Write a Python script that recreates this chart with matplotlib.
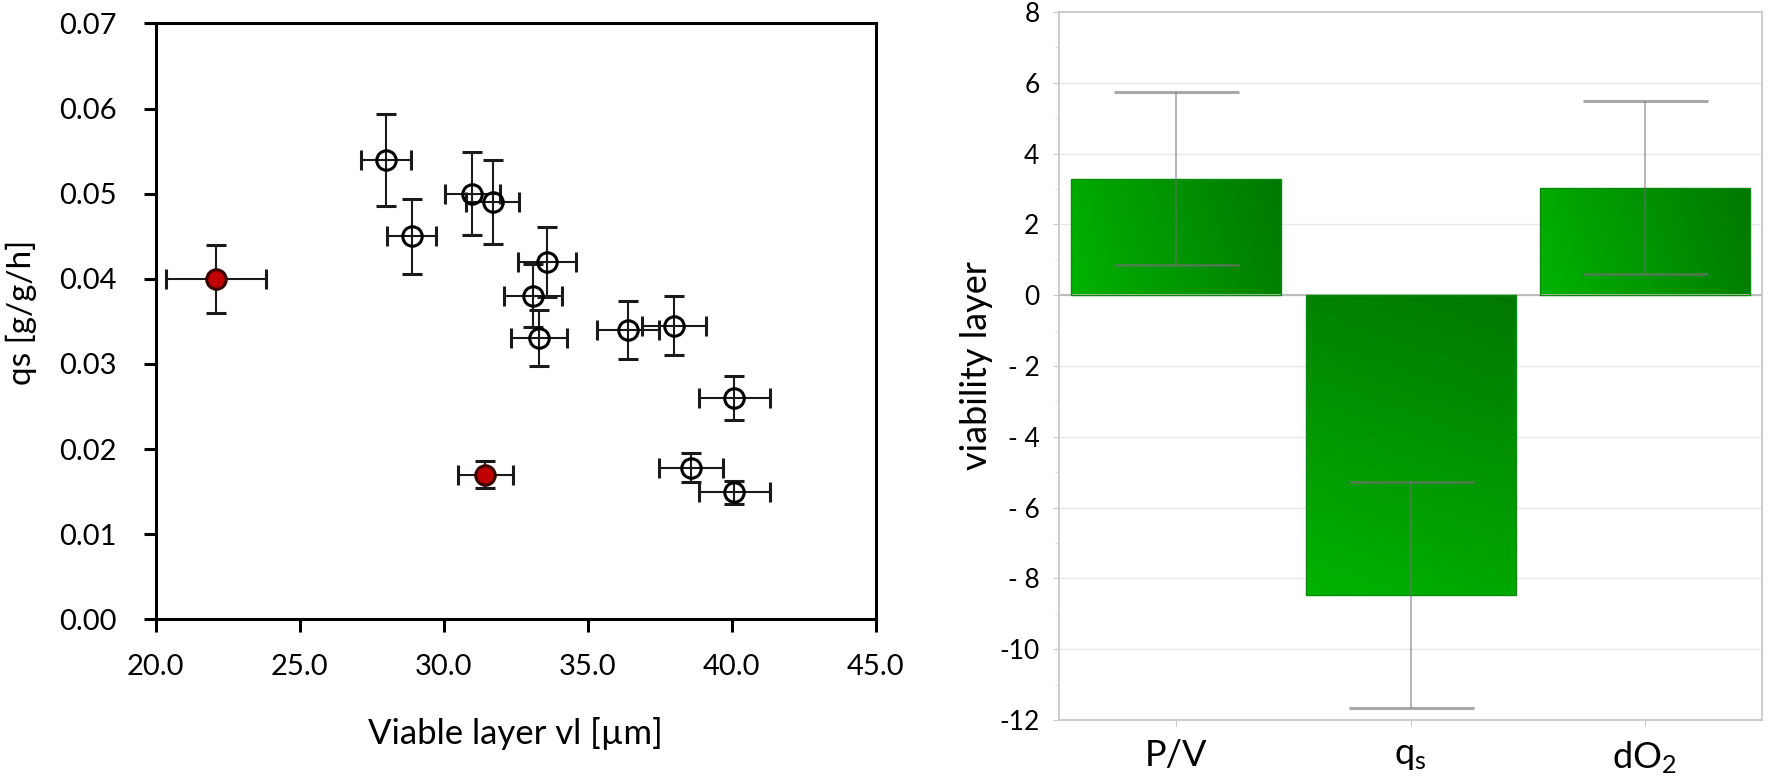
import numpy as np
import matplotlib
matplotlib.use("Agg")
import matplotlib.pyplot as plt
from matplotlib.ticker import FuncFormatter, MultipleLocator

plt.rcParams['font.family'] = ['Lato', 'DejaVu Sans']
plt.rcParams['mathtext.fontset'] = 'custom'
plt.rcParams['mathtext.rm'] = 'Lato'
plt.rcParams['mathtext.it'] = 'Lato'

# --- left panel: qs vs viable layer (open = normal runs, red = outliers)
vl_open = [28.0, 28.9, 31.0, 31.7, 33.6, 33.1, 33.3, 36.4, 38.0, 40.1, 38.6, 40.1]
qs_open = [0.054, 0.045, 0.050, 0.049, 0.042, 0.038, 0.033, 0.034, 0.0345, 0.026, 0.0178, 0.0149]
vl_err_open = [0.86, 0.85, 0.95, 0.93, 1.01, 1.0, 0.97, 1.07, 1.12, 1.23, 1.11, 1.23]
qs_err_open = [0.0054, 0.0044, 0.0049, 0.0049, 0.0041, 0.0037, 0.0033, 0.0034, 0.0035, 0.0026, 0.0017, 0.0014]

vl_red = [22.1, 31.45]
qs_red = [0.040, 0.017]
vl_err_red = [1.73, 0.95]
qs_err_red = [0.0040, 0.0016]

# --- right panel: effect on viability layer
factors = ['P/V', 'q$_\\mathregular{s}$', 'dO$_\\mathregular{2}$']
effect = [3.29, -8.47, 3.04]
effect_err = [2.45, 3.2, 2.45]

fig = plt.figure(figsize=(17.7, 7.8), dpi=100)

# ------------------ left plot ------------------
ax1 = fig.add_axes([0.0879, 0.206, 0.4068, 0.764])
ax1.errorbar(vl_open, qs_open, xerr=vl_err_open, yerr=qs_err_open, fmt='o',
             ms=14, mfc='none', mec='black', mew=2.2, ecolor='#1a1a1a',
             elinewidth=1.5, capsize=7.2, capthick=1.5, zorder=3)
ax1.errorbar(vl_red, qs_red, xerr=vl_err_red, yerr=qs_err_red, fmt='o',
             ms=14, mfc='#c00000', mec='#3a0000', mew=2.2, ecolor='#1a1a1a',
             elinewidth=1.5, capsize=7.2, capthick=1.5, zorder=3)

ax1.set_xlim(20, 45)
ax1.set_ylim(0, 0.07)
ax1.xaxis.set_major_locator(MultipleLocator(5))
ax1.yaxis.set_major_locator(MultipleLocator(0.01))
ax1.xaxis.set_major_formatter(FuncFormatter(lambda v, p: f"{v:.1f}"))
ax1.yaxis.set_major_formatter(FuncFormatter(lambda v, p: f"{v:.2f}"))
for s in ax1.spines.values():
    s.set_linewidth(2.2)
ax1.tick_params(axis='both', direction='out', length=9, width=2.2, labelsize=21)
ax1.tick_params(axis='y', pad=19)
ax1.tick_params(axis='x', pad=16)
ax1.set_xlabel('Viable layer vl [µm]', fontsize=25, va='center')
ax1.xaxis.set_label_coords(0.5, -0.191)
ax1.set_ylabel('qs [g/g/h]', fontsize=24, va='center')
ax1.yaxis.set_label_coords(-0.186, 0.515)

# ------------------ right plot ------------------
ax2 = fig.add_axes([0.5983, 0.0769, 0.3972, 0.9077])
x = np.arange(len(factors))
bars = ax2.bar(x, effect, width=0.896, color='none', edgecolor='#0a8a0a',
               linewidth=1.0, zorder=2)

# gradient fill for each bar
light = np.array([0.0, 0.70, 0.0])
dark = np.array([0.0, 0.47, 0.0])
for b, v in zip(bars, effect):
    xs, ys = b.get_x(), b.get_y()
    w, h = b.get_width(), b.get_height()
    gx, gy = np.meshgrid(np.linspace(0, 1, 64), np.linspace(0, 1, 64))
    if v >= 0:
        t = 0.85 * gx + 0.15 * gy
    else:
        t = 0.8 * gy + 0.2 * gx
    img = light[None, None, :] * (1 - t[..., None]) + dark[None, None, :] * t[..., None]
    y0, y1 = (ys, ys + h) if h >= 0 else (ys + h, ys)
    im = ax2.imshow(img, extent=[xs, xs + w, y0, y1], origin='lower',
                    aspect='auto', zorder=1.5)
    im.set_clip_path(b)

ax2.errorbar(x, effect, yerr=effect_err, fmt='none', ecolor='#707070',
             elinewidth=1.2, capsize=45, capthick=2.2, alpha=0.6, zorder=3)

ax2.axhline(0, color='#bdbdbd', lw=1.5, zorder=1.8)
ax2.set_xlim(-0.5, 2.5)
ax2.set_ylim(-12, 8)
ax2.yaxis.set_major_locator(MultipleLocator(2))
ax2.yaxis.set_minor_locator(MultipleLocator(1))


def fmt_right(v, p):
    v = int(round(v))
    if -10 < v < 0:
        return f"- {abs(v)}"
    return str(v)


ax2.yaxis.set_major_formatter(FuncFormatter(fmt_right))
ax2.set_xticks(x)
ax2.set_xticklabels(factors, fontsize=26)
ax2.grid(axis='y', color='#e8e8e8', lw=1.0, zorder=0)
ax2.set_axisbelow(True)
for s in ax2.spines.values():
    s.set_color('#c8c8c8')
    s.set_linewidth(1.3)
ax2.tick_params(axis='y', which='major', length=4, color='#c8c8c8', labelsize=19, pad=10)
ax2.tick_params(axis='y', which='minor', length=3, color='#d8d8d8')
ax2.tick_params(axis='x', length=4, color='#c8c8c8', pad=10)
ax2.set_ylabel('viability layer', fontsize=26, va='center')
ax2.yaxis.set_label_coords(-0.117, 0.5)

fig.savefig('out.png', dpi=100)
